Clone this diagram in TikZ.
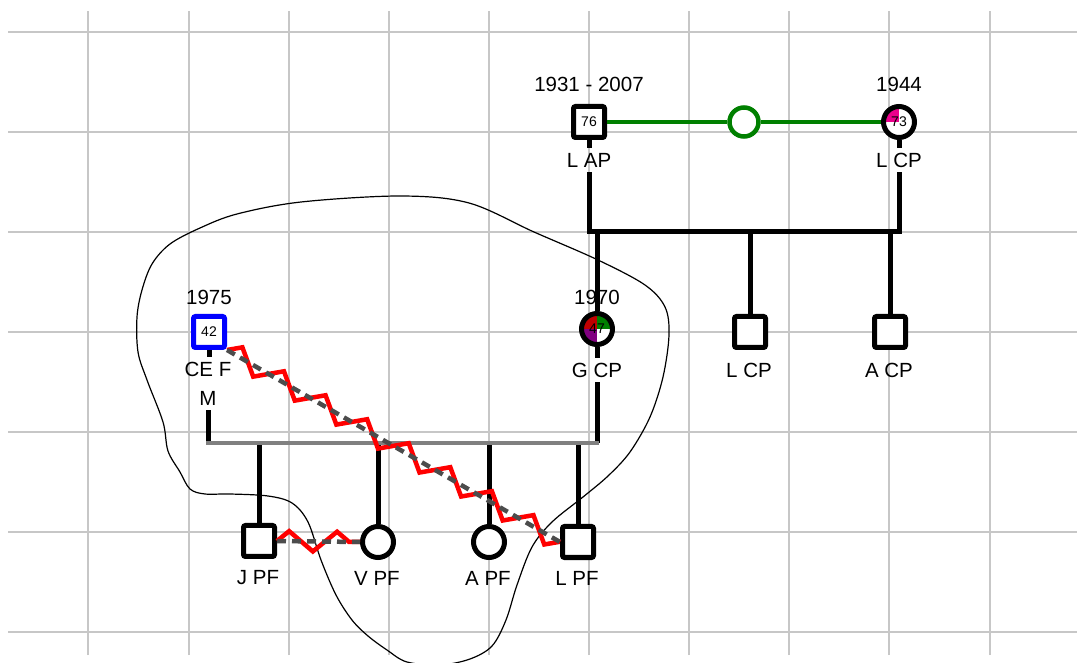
\documentclass[tikz,border=0pt]{standalone}
\usepackage{fontspec}
\setmainfont{Liberation Sans}
\usetikzlibrary{arrows.meta}
\usetikzlibrary{decorations.pathmorphing}

\newcommand{\namefont}{\fontsize{20.5}{22}\selectfont}
\newcommand{\agefont}{\fontsize{14}{15}\selectfont}
\newcommand{\drawlabel}[4]{   % node name, x, y, text
	\node[namelbl] (#1) at (#2, #3) {#4};
}
\newcommand{\drawstub}[2]{   % person, label below it
	\draw[famline] (#1.south) -- (#1.south |- #2.north);
}
\newcommand{\drawdrop}[2]{   % family line, child
	\draw[famline] (#2.north |- #1) -- (#2.north);
}

\tikzset{
	gridline/.style={draw=black!22, line width=1.6pt},
	person/.style={draw, fill=white, line width=5pt, minimum size=31pt, inner sep=0pt, font=\agefont},
	male/.style={person, rectangle, rounded corners=2pt},
	female/.style={person, circle},
	marriage/.style={circle, draw=green!50!black, fill=white, line width=4.5pt, minimum size=29pt, inner sep=0pt},
	namelbl/.style={font=\namefont, inner sep=0pt, outer sep=5pt},
	famline/.style={line width=5pt},
	grayline/.style={draw=black!50, line width=4.5pt, line cap=rect},
	marline/.style={draw=green!50!black, line width=4pt},
	zigline/.style={draw=red, line width=4.5pt, decorate, decoration={zigzag, segment length=48pt, amplitude=10pt}},
	dashline/.style={draw=black!70, line width=4.5pt, dash pattern=on 9pt off 6pt},
	lasso/.style={draw=black, line width=1.2pt},
}

\begin{document}
\begin{tikzpicture}[x=1pt, y=1pt]
\useasboundingbox (0,0) rectangle (1077,662);
\fill[white] (0,0) rectangle (1077,662);

\foreach \gx in {88,189,289,389,489,589,689,789,889,990}
	\draw[gridline] (\gx,7) -- (\gx,651);
\foreach \gy in {30,130,...,630}
	\draw[gridline] (8,\gy) -- (1077,\gy);

\draw[lasso] plot[smooth cycle, tension=0.55] coordinates {
	(401,466) (469,459) (534,430) (598,402) (645,377) (665,355) (669,327)
	(663,285) (650,245) (630,210) (608,186) (583,165) (552,140) (532,115)
	(517,77) (506,42) (492,16) (470,3) (440,-3) (407,0) (387,12) (368,26)
	(352,42) (336,67) (321,102) (308,140) (292,159) (268,166) (230,168)
	(205,168) (190,173) (180,190) (168,211) (163,240) (147,282) (138,310)
	(137,345) (142,372) (152,398) (170,418) (200,434) (237,448) (301,460)};

\node[male] (LAP) at (589,540) {76};
\node[marriage] (mar) at (744,540) {};
\node[female, path picture={
	\fill[magenta] (path picture bounding box.center) rectangle (path picture bounding box.north west);
}] (LCPt) at (899,540) {73};
\node[female, path picture={
	\fill[red!75!black] (path picture bounding box.center) rectangle (path picture bounding box.north west);
	\fill[green!50!black] (path picture bounding box.center) rectangle (path picture bounding box.north east);
	\fill[violet] (path picture bounding box.center) rectangle (path picture bounding box.south west);
}] (GCP) at (597,333) {47};
\node[male] (LCPc) at (750,330) {};
\node[male] (ACP) at (890,330) {};
\node[male, draw=blue] (CEF) at (209,330) {42};
\node[male] (JPF) at (259,121) {};
\node[female] (VPF) at (378,120) {};
\node[female] (APF) at (489,120) {};
\node[male] (LPF) at (578,120) {};

\drawlabel{LAPyear}{589}{578}{1931 - 2007}
\drawlabel{LAPname}{589}{502}{L AP}
\drawlabel{LCPtyear}{899}{578}{1944}
\drawlabel{LCPtname}{899}{502}{L CP}
\drawlabel{GCPyear}{597}{365}{1970}
\drawlabel{GCPname}{597}{292}{G CP}
\drawlabel{LCPcname}{749}{292}{L CP}
\drawlabel{ACPname}{889}{292}{A CP}
\drawlabel{CEFyear}{209}{365}{1975}
\drawlabel{CEFname}{208}{293}{CE F}
\drawlabel{CEFm}{208}{264}{M}
\drawlabel{JPFname}{258}{84}{J PF}
\drawlabel{VPFname}{377}{84}{V PF}
\drawlabel{APFname}{488}{84}{A PF}
\drawlabel{LPFname}{577}{84}{L PF}

\draw[marline] (LAP) -- (mar) -- (LCPt);

\drawstub{LAP}{LAPname}
\drawstub{LCPt}{LCPtname}
\drawstub{GCP}{GCPname}
\drawstub{CEF}{CEFname}

\coordinate (famtop) at (744,430);
\draw[famline] (LAPname.south) |- (famtop) -| (LCPtname.south);
\drawdrop{famtop}{GCP}
\drawdrop{famtop}{LCPc}
\drawdrop{famtop}{ACP}

\coordinate (famlow) at (404,219);
\draw[famline] (CEFm.south) -- (CEFm.south |- famlow);
\draw[famline] (GCPname.south) -- (GCPname.south |- famlow);
\drawdrop{famlow}{JPF}
\drawdrop{famlow}{VPF}
\drawdrop{famlow}{APF}
\drawdrop{famlow}{LPF}
\draw[grayline] (CEFm.south |- famlow) -- (GCPname.south |- famlow);

\draw[zigline] (CEF.south east) -- (LPF.west);
\draw[dashline] (CEF.south east) -- (LPF.west);
\draw[zigline] (JPF.east) -- (VPF.west);
\draw[dashline] (JPF.east) -- (VPF.west);
\end{tikzpicture}
\end{document}
